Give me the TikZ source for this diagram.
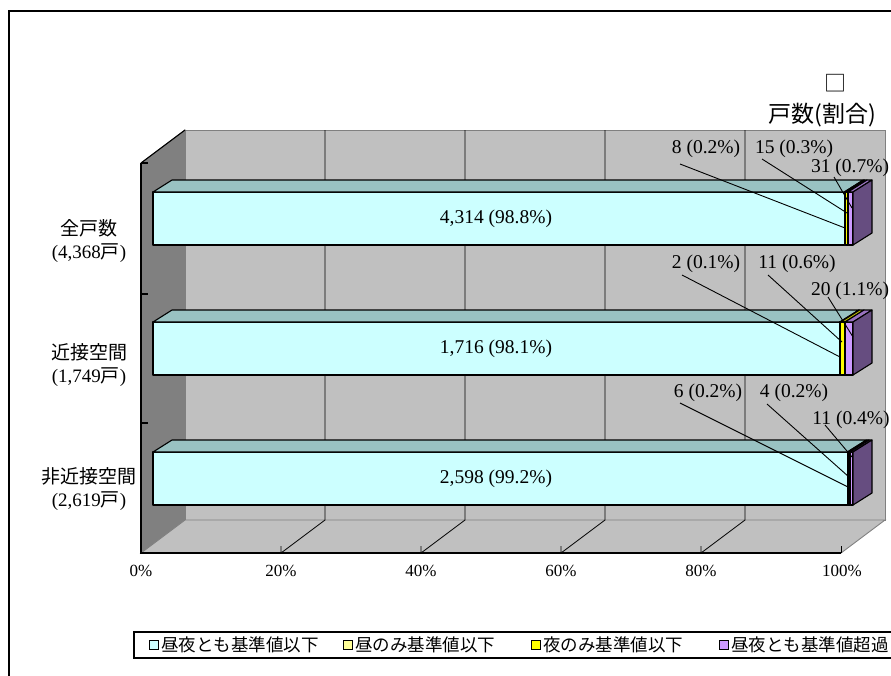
\documentclass[tikz,border=0pt]{standalone}
\usepackage{fontspec}
\setmainfont{Liberation Serif}
\newfontfamily\jp{Noto Sans CJK JP}
\definecolor{cyanF}{RGB}{204,255,255}
\definecolor{cyanT}{RGB}{153,194,194}
\definecolor{ltyF}{RGB}{255,255,153}
\definecolor{ltyT}{RGB}{194,194,115}
\definecolor{yelF}{RGB}{255,255,0}
\definecolor{yelT}{RGB}{194,194,0}
\definecolor{purF}{RGB}{204,153,255}
\definecolor{purT}{RGB}{153,115,191}
\definecolor{purS}{RGB}{102,77,128}
\definecolor{wallG}{RGB}{192,192,192}
\definecolor{wallD}{RGB}{128,128,128}
\newcommand\barseg[5]{%
  \filldraw[barline, fill=#4] (#2,#1) rectangle (#3,#1+53);
  \filldraw[barline, fill=#5] (#2,#1) -- (#2+19,#1-12) -- (#3+19,#1-12) -- (#3,#1) -- cycle;}
\newcommand\barend[2]{%
  \filldraw[barline, fill=purS] (#2,#1) -- (#2+19,#1-12) -- (#2+19,#1+41) -- (#2,#1+53) -- cycle;}
\begin{document}
\begin{tikzpicture}[x=1pt,y=-1pt,
  barline/.style={draw=black, line width=1.1pt, line join=round},
  grid/.style={draw=black, line width=0.8pt},
  leader/.style={draw=black, line width=0.9pt},
  txt/.style={inner sep=0pt, font=\fontsize{19.5}{22}\selectfont},
  cat/.style={inner sep=0pt, align=center, font=\fontsize{19}{23}\selectfont},
  axl/.style={inner sep=0pt, font=\fontsize{17}{19}\selectfont},
  leg/.style={inner sep=0pt, anchor=west, font=\jp\fontsize{17.5}{20}\selectfont},
  legbox/.style={draw=black, line width=0.9pt, minimum size=9pt, inner sep=0pt}]
\fill[white] (0,0) rectangle (891,675);
\useasboundingbox (0,0) rectangle (891,675);
% outer frame
\draw[line width=1.3pt] (9,680) -- (9,11) -- (895,11);
% walls
\filldraw[fill=wallG, draw=wallD, line width=0.9pt] (185,130) rectangle (885,520);
\filldraw[fill=wallD, draw=wallD, line width=0.9pt] (141,163) -- (185,130) -- (185,520) -- (141,553) -- cycle;
\filldraw[fill=wallG, draw=wallD, line width=0.9pt] (141,553) -- (185,520) -- (885,520) -- (841,553) -- cycle;
\draw[line width=1.1pt] (141,163) -- (185,130);
% grid lines
\foreach \gx in {325,465,605,745}{
  \draw[grid] (\gx,130) -- (\gx,520) -- (\gx-44,553) -- (\gx-44,546);
}
\draw[grid] (841,553) -- (841,546);
% axes
\draw[line width=1.1pt] (141,163) -- (141,553) -- (841,553);
\foreach \ty in {163,294,423}{ \draw[line width=1.1pt] (141,\ty) -- (148,\ty); }
% bar 1
\barseg{192}{153}{844.3}{cyanF}{cyanT}
\barseg{192}{844.3}{845.6}{ltyF}{ltyT}
\barseg{192}{845.6}{848.0}{yelF}{yelT}
\barseg{192}{848.0}{853}{purF}{purT}
\barend{192}{853}
% bar 2
\barseg{322}{153}{839.8}{cyanF}{cyanT}
\barseg{322}{839.8}{840.6}{ltyF}{ltyT}
\barseg{322}{840.6}{845.0}{yelF}{yelT}
\barseg{322}{845.0}{853}{purF}{purT}
\barend{322}{853}
% bar 3
\barseg{452}{153}{847.4}{cyanF}{cyanT}
\barseg{452}{847.4}{849.0}{ltyF}{ltyT}
\barseg{452}{849.0}{850.1}{yelF}{yelT}
\barseg{452}{850.1}{853}{purF}{purT}
\barend{452}{853}
% center labels
\node[txt] (m1) at (496,219) {4,314 (98.8\%)};
\node[txt] (m2) at (496,349) {1,716 (98.1\%)};
\node[txt] (m3) at (496,479) {2,598 (99.2\%)};
% small labels
\node[txt] (a1) at (706,149) {8 (0.2\%)};
\node[txt] (a2) at (794,149) {15 (0.3\%)};
\node[txt] (a3) at (850,168) {31 (0.7\%)};
\node[txt] (b1) at (706,264) {2 (0.1\%)};
\node[txt] (b2) at (797,264) {11 (0.6\%)};
\node[txt] (b3) at (850,291) {20 (1.1\%)};
\node[txt] (d1) at (708,393) {6 (0.2\%)};
\node[txt] (d2) at (794,393) {4 (0.2\%)};
\node[txt] (d3) at (851,420) {11 (0.4\%)};
% leader lines
\coordinate (a1s) at (680,164); \coordinate (a1e) at (845,228);
\coordinate (a2s) at (762,159); \coordinate (a2e) at (847,213);
\coordinate (a3s) at (834,177); \coordinate (a3e) at (852,208);
\coordinate (b1s) at (682,275); \coordinate (b1e) at (840,357);
\coordinate (b2s) at (768,275); \coordinate (b2e) at (842,342);
\coordinate (b3s) at (828,297); \coordinate (b3e) at (853,337);
\coordinate (d1s) at (680,403); \coordinate (d1e) at (848,487);
\coordinate (d2s) at (767,404); \coordinate (d2e) at (849,477);
\coordinate (d3s) at (825,425); \coordinate (d3e) at (852,457);
\foreach \p in {a1,a2,a3,b1,b2,b3,d1,d2,d3}{ \draw[leader] (\p s) -- (\p e); }
% category labels
\node[cat] (c1) at (89,241) {{\jp 全戸数}\\(4,368{\jp 戸})};
\node[cat] (c2) at (89,365) {{\jp 近接空間}\\(1,749{\jp 戸})};
\node[cat] (c3) at (89,489) {{\jp 非近接空間}\\(2,619{\jp 戸})};
% axis labels
\node[axl] (x0) at (141,571) {0\%};
\node[axl] (x1) at (281,571) {20\%};
\node[axl] (x2) at (421,571) {40\%};
\node[axl] (x3) at (561,571) {60\%};
\node[axl] (x4) at (701,571) {80\%};
\node[axl] (x5) at (842,571) {100\%};
% unit label
\node[inner sep=0pt, font=\jp\fontsize{22}{24}\selectfont] (u0) at (835,83) {□};
\node[inner sep=0pt, font=\jp\fontsize{23}{26}\selectfont] (u1) at (822,115) {戸数(割合)};
% legend
\draw[line width=1.2pt] (895,632) -- (134,632) -- (134,658) -- (895,658);
\node[legbox, fill=cyanF] (k1) at (154,645) {};
\node[leg] (t1) at (161,645) {昼夜とも基準値以下};
\node[legbox, fill=ltyF] (k2) at (348,645) {};
\node[leg] (t2) at (355,645) {昼のみ基準値以下};
\node[legbox, fill=yelF] (k3) at (536,645) {};
\node[leg] (t3) at (543,645) {夜のみ基準値以下};
\node[legbox, fill=purF] (k4) at (724,645) {};
\node[leg] (t4) at (731,645) {昼夜とも基準値超過};
\end{tikzpicture}
\end{document}
